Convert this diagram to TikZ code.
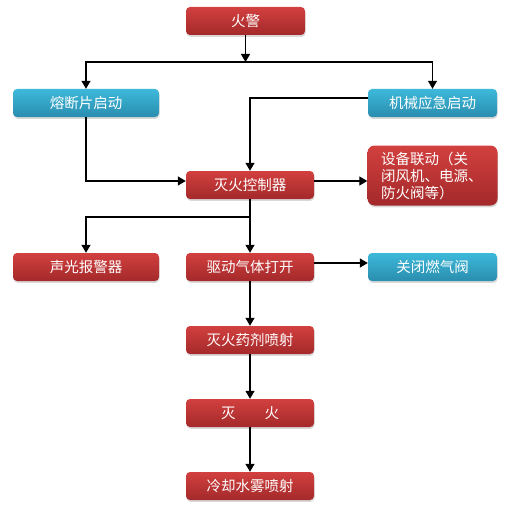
\documentclass[tikz,border=0pt]{standalone}
\usepackage{fontspec}
\newfontfamily\cjk{Noto Sans CJK SC}
\usetikzlibrary{arrows.meta,shadows}

\definecolor{redtop}{HTML}{D2403F}
\definecolor{redbot}{HTML}{A4292A}
\definecolor{bluetop}{HTML}{3DB9DA}
\definecolor{bluebot}{HTML}{2A8DAE}

\tikzset{
  box/.style={rounded corners=4pt, minimum height=28pt, inner sep=2pt,
    text=white, font=\cjk\fontsize{14.5}{17}\selectfont,
    drop shadow={shadow xshift=0.6pt, shadow yshift=-1.8pt, opacity=0.3}},
  redbox/.style={box, top color=redtop, bottom color=redbot},
  bluebox/.style={box, top color=bluetop, bottom color=bluebot},
  arr/.style={-{Triangle[length=8pt,width=9pt]}, line width=1.2pt}
}

\begin{document}
\begin{tikzpicture}[x=1pt, y=-1pt]
  \useasboundingbox (0,0) rectangle (513,516);
  \pgfmathsetmacro{\xl}{86}
  \pgfmathsetmacro{\xm}{250}
  \pgfmathsetmacro{\xr}{432.5}

  \node[redbox, minimum width=119pt] (alarm) at (245.5,21) {火警};
  \node[bluebox, minimum width=146pt] (fuse) at (\xl,103) {熔断片启动};
  \node[bluebox, minimum width=129pt] (manual) at (\xr,103) {机械应急启动};
  \node[redbox, minimum width=128pt] (ctrl) at (\xm,185) {灭火控制器};
  \node[redbox, minimum width=130pt, minimum height=60pt, rounded corners=7pt,
    text width=103pt, align=left] (linkage) at (\xr,175.5)
    {设备联动（关\\闭风机、电源、\\防火阀等）};
  \node[redbox, minimum width=146pt] (sound) at (\xl,267) {声光报警器};
  \node[redbox, minimum width=128pt] (gas) at (\xm,267) {驱动气体打开};
  \node[bluebox, minimum width=129pt] (valve) at (\xr,267) {关闭燃气阀};
  \node[redbox, minimum width=128pt] (spray) at (\xm,340) {灭火药剂喷射};
  \node[redbox, minimum width=128pt] (fire) at (\xm,413) {灭\hspace{2em}火};
  \node[redbox, minimum width=128pt] (mist) at (\xm,486) {冷却水雾喷射};

  \coordinate (fork1) at (245.5,62);
  \coordinate (fork2) at (\xm,217);

  \draw[arr] (alarm) -- (fork1);
  \draw[arr] (fork1) -| (fuse);
  \draw[arr] (fork1) -| (manual);
  \draw[arr] ([yshift=5pt]manual.west) -| (ctrl);
  \draw[arr] (fuse) |- ([yshift=4pt]ctrl.west);
  \draw[arr] ([yshift=4pt]ctrl.east) -- ([yshift=4pt]ctrl.east -| linkage.west);
  \draw[arr] (ctrl) -- (gas);
  \draw[arr] (fork2) -| (sound);
  \draw[arr] ([yshift=4pt]gas.east) -- ([yshift=4pt]gas.east -| valve.west);
  \draw[arr] (gas) -- (spray);
  \draw[arr] (spray) -- (fire);
  \draw[arr] (fire) -- (mist);
\end{tikzpicture}
\end{document}
